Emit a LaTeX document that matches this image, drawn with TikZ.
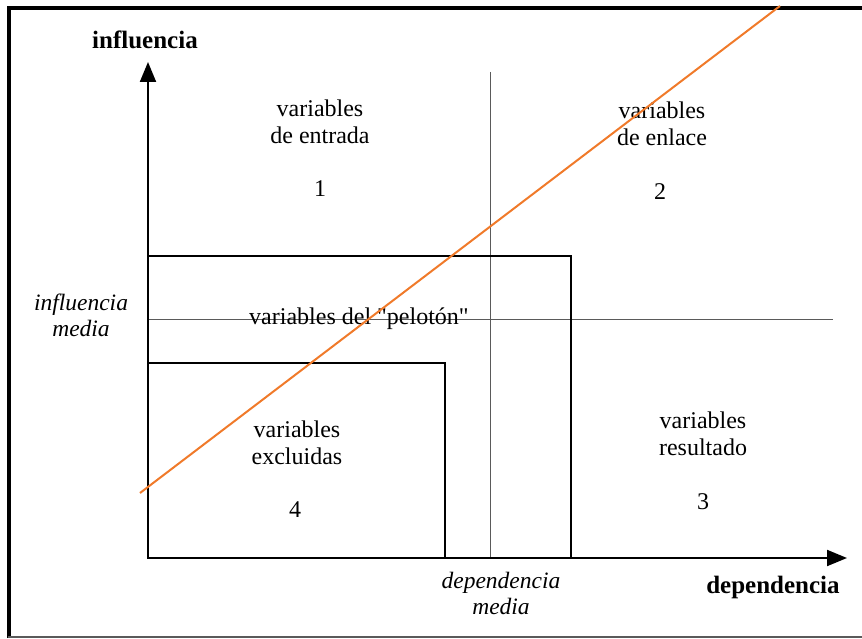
\documentclass[tikz,border=0pt]{standalone}
\usepackage{fontspec}
\setmainfont{Liberation Serif}
\newfontfamily\plainserif{Liberation Serif}
\usetikzlibrary{arrows.meta}
\definecolor{orangeline}{RGB}{240,122,42}
\definecolor{thinline}{RGB}{90,90,90}
\begin{document}
\begin{tikzpicture}[x=1pt,y=-1pt,
  lbl/.style={font=\fontsize{24}{27}\selectfont, align=center, inner sep=0pt},
  axlbl/.style={font=\fontsize{25}{28}\selectfont\bfseries, inner sep=0pt},
  itlbl/.style={font=\fontsize{23.5}{26}\selectfont\itshape, align=center, inner sep=0pt},
  axis/.style={line width=2pt, -{Triangle[length=20pt,width=16pt]}},
  box/.style={line width=2.4pt},
  thin/.style={line width=1pt, draw=thinline},
  frame/.style={line width=4pt}]
\useasboundingbox (0,0) rectangle (862,639);
% frame
\draw[frame] (9,638) -- (9,8) -- (862,8);
\draw[line width=2pt, draw=thinline] (8,637) -- (862,637);
% coordinates
\coordinate (O) at (148,558);
\coordinate (ytip) at (148,62);
\coordinate (xtip) at (847,558);
\coordinate (vtop) at (490,72);
\coordinate (vbot) at (490,558);
\coordinate (hleft) at (148,319);
\coordinate (hright) at (833,319);
\coordinate (bigTL) at (148,256);
\coordinate (bigTR) at (571,256);
\coordinate (bigBR) at (571,558);
\coordinate (smTL) at (148,363);
\coordinate (smTR) at (445,363);
\coordinate (smBR) at (445,558);
\coordinate (oA) at (140,493);
\coordinate (oB) at (780,6);
% thin median lines
\draw[thin] (vtop) -- (vbot);
\draw[thin] (hleft) -- (hright);
% boxes
\draw[box] (bigTL) -- (bigTR) -- (bigBR);
\draw[box] (smTL) -- (smTR) -- (smBR);
% axes
\draw[axis] (O) -- (ytip);
\draw[axis] ([xshift=-1pt]O) -- (xtip);
% labels
\node[axlbl] (yl) at (145,40) {influencia};
\node[axlbl] (xl) at (773,587) {dependencia};
\node[lbl] (q1) at (320,122) {variables\\de entrada};
\node[lbl] (n1) at (320,189) {1};
\node[lbl] (q2) at (662,124) {variables\\de enlace};
\node[lbl] (n2) at (660,192) {2};
\node[lbl] (pel) at (359,319) {\plainserif variables del "pelotón"};
\node[lbl] (q4) at (297,443) {variables\\excluidas};
\node[lbl] (n4) at (295,510) {4};
\node[lbl] (q3) at (703,434) {variables\\resultado};
\node[lbl] (n3) at (703,502) {3};
\node[itlbl] (im) at (81,315) {influencia\\media};
\node[itlbl] (dm) at (501,593) {dependencia\\media};
% orange line
\draw[line width=2pt, draw=orangeline] (oA) -- (oB);
\end{tikzpicture}
\end{document}
